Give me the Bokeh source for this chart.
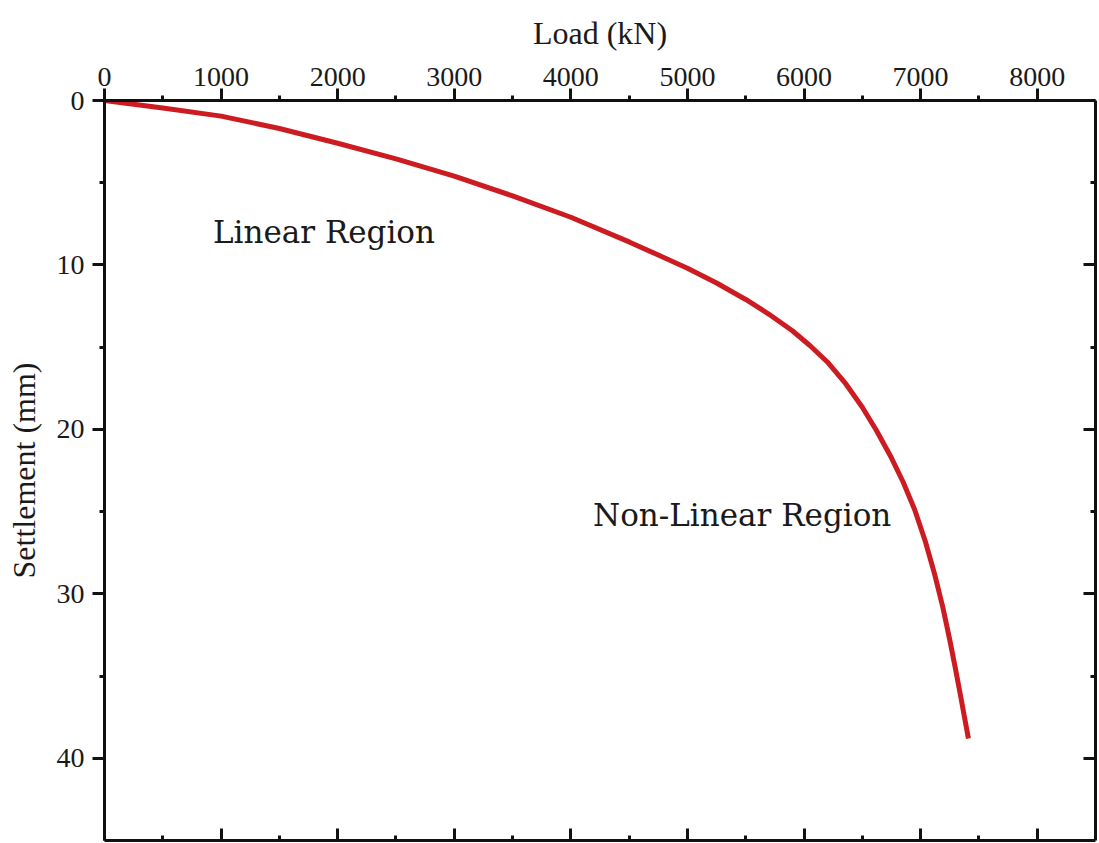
from bokeh.plotting import figure
from bokeh.models import Range1d, LinearAxis, FixedTicker, CustomLabelingPolicy
from bokeh.core.properties import value
from bokeh.embed import file_html
from bokeh.resources import INLINE

# ---- data ----
load_kn = [0, 500, 1000, 1500, 2000, 2500, 3000, 3500, 4000, 4500, 4750,
           5000, 5250, 5500, 5700, 5900, 6050, 6200, 6350, 6500, 6620, 6740,
           6850, 6950, 7040, 7120, 7190, 7250, 7300, 7340, 7375, 7410]
settlement_mm = [0, 0.45, 0.95, 1.7, 2.6, 3.55, 4.6, 5.8, 7.1, 8.6, 9.4,
                 10.2, 11.1, 12.1, 13.0, 14.0, 14.9, 15.9, 17.15, 18.65, 20.05, 21.6,
                 23.2, 24.9, 26.8, 28.8, 30.8, 32.8, 34.6, 36.1, 37.45, 38.8]

x_ticks = [0, 1000, 2000, 3000, 4000, 5000, 6000, 7000, 8000]
x_minor = [500, 1500, 2500, 3500, 4500, 5500, 6500, 7500]
y_ticks = [0, 10, 20, 30, 40]
y_minor = [5, 15, 25, 35]

labels = ["Linear Region", "Non-Linear Region"]
label_x = [930, 4190]
label_y = [8.0, 25.2]

SERIF = "Liberation Serif"
TXT = "#1a1a1a"

p = figure(width=1098, height=842,
           x_range=Range1d(0, 8500), y_range=Range1d(45, 0),
           x_axis_location="above",
           output_backend="svg", toolbar_location=None,
           min_border_left=104, min_border_top=100,
           min_border_right=3, min_border_bottom=2,
           background_fill_color="white", border_fill_color="white")
p.outline_line_color = None
p.grid.visible = False

no_labels = CustomLabelingPolicy(code="""
const out = indices.clone();
for (const i of Array.from(indices.ones())) out.unset(i);
return out;
""")

def style_axis(ax, ticks, minor, show_labels, inward):
    ax.ticker = FixedTicker(ticks=ticks, minor_ticks=minor)
    ax.axis_line_width = 3
    ax.axis_line_color = "#111111"
    ax.major_tick_line_width = 3
    ax.minor_tick_line_width = 3
    ax.major_tick_line_color = "#111111"
    ax.minor_tick_line_color = "#111111"
    if inward:
        ax.major_tick_in, ax.major_tick_out = 12, 0
        ax.minor_tick_in, ax.minor_tick_out = 5, 0
    else:
        ax.major_tick_in, ax.major_tick_out = 0, 12
        ax.minor_tick_in, ax.minor_tick_out = 0, 5
    if show_labels:
        ax.major_label_text_font = SERIF
        ax.major_label_text_font_size = "28px"
        ax.major_label_text_color = TXT
        ax.axis_label_text_font = SERIF
        ax.axis_label_text_font_size = "32px"
        ax.axis_label_text_font_style = "normal"
        ax.axis_label_text_color = TXT
    else:
        ax.major_label_text_font_size = "0px"
        ax.major_label_standoff = 0
        ax.major_label_policy = no_labels

top = p.xaxis[0]
style_axis(top, x_ticks, x_minor, True, False)
top.axis_label = "Load (kN)"
top.major_label_standoff = 3
top.axis_label_standoff = 14

left = p.yaxis[0]
style_axis(left, y_ticks, y_minor, True, False)
left.axis_label = "Settlement (mm)"
left.major_label_standoff = 8
left.axis_label_standoff = 12

bottom = LinearAxis()
style_axis(bottom, x_ticks, x_minor, False, True)
p.add_layout(bottom, "below")

right = LinearAxis()
style_axis(right, y_ticks, y_minor, False, True)
p.add_layout(right, "right")

p.line(load_kn, settlement_mm, line_color="#cc1c22", line_width=5,
       line_join="round")

p.text(x=label_x, y=label_y, text=labels,
       text_font=value("DejaVu Serif"), text_font_size="31px",
       text_color=TXT, text_align="left", text_baseline="middle")

open("out.html", "w").write(file_html(p, INLINE))
